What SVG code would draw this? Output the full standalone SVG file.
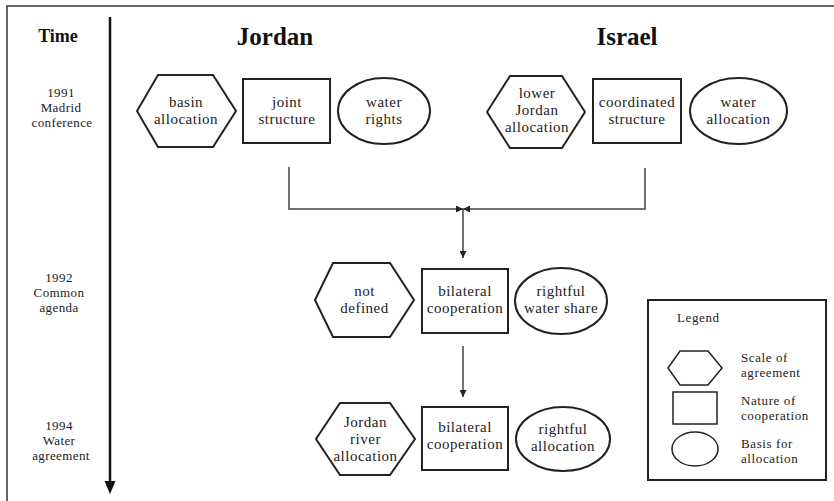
<svg xmlns="http://www.w3.org/2000/svg" width="834" height="501" viewBox="0 0 834 501">
<defs>
<style>
.frame{fill:none;stroke:#333;stroke-width:1.5}
.axis{fill:none;stroke:#111;stroke-width:2.5}
.shape{fill:#fff;stroke:#222;stroke-width:2}
.conn{fill:none;stroke:#444;stroke-width:1.5}
.t{font-family:"Liberation Serif","Times New Roman",serif;font-size:15px;letter-spacing:0.5px;fill:#222;text-anchor:middle}
.tl{font-family:"Liberation Serif","Times New Roman",serif;font-size:13px;letter-spacing:0.4px;fill:#222;text-anchor:middle}
.h{font-family:"Liberation Serif","Times New Roman",serif;font-weight:bold;fill:#111;text-anchor:middle}
.lg{font-family:"Liberation Serif","Times New Roman",serif;font-size:13px;letter-spacing:0.6px;fill:#222}
</style>
<marker id="ah" viewBox="0 0 10 10" refX="10" refY="5" markerWidth="7" markerHeight="7" markerUnits="userSpaceOnUse" orient="auto">
<path d="M0,0 L10,5 L0,10 Z" fill="#222"/>
</marker>
</defs>
<rect width="834" height="501" fill="#fff"/>
<path class="frame" d="M7,501 V6 H834"/>

<g id="time-axis">
<line class="axis" x1="110" y1="17" x2="110" y2="483"/>
<path d="M104.5,481 L115.5,481 L110,494 Z" fill="#111"/>
<text class="h" x="58" y="42" font-size="18">Time</text>
<text class="tl"><tspan x="61" y="97">1991</tspan><tspan x="61" y="112">Madrid</tspan><tspan x="62" y="127">conference</tspan></text>
<text class="tl"><tspan x="59" y="282">1992</tspan><tspan x="59" y="297">Common</tspan><tspan x="59" y="312">agenda</tspan></text>
<text class="tl"><tspan x="59" y="430">1994</tspan><tspan x="59" y="445">Water</tspan><tspan x="61" y="460">agreement</tspan></text>
</g>

<text class="h" x="275" y="45" font-size="25">Jordan</text>
<text class="h" x="627" y="45" font-size="25">Israel</text>

<g id="connectors">
<polyline class="conn" points="289,167 289,209 463,209" marker-end="url(#ah)"/>
<polyline class="conn" points="645,168 645,209 463,209" marker-end="url(#ah)"/>
<line class="conn" x1="463" y1="209" x2="463" y2="258" marker-end="url(#ah)"/>
<line class="conn" x1="463" y1="346" x2="463" y2="397" marker-end="url(#ah)"/>
</g>

<g id="jordan-scale">
<polygon class="shape" points="137,111 158,75 213,75 236,111 213,147 158,147"/>
<text class="t"><tspan x="186" y="107">basin</tspan><tspan x="186" y="124">allocation</tspan></text>
</g>
<g id="jordan-nature">
<rect class="shape" x="243" y="79" width="87" height="64"/>
<text class="t"><tspan x="287" y="107">joint</tspan><tspan x="287" y="124">structure</tspan></text>
</g>
<g id="jordan-basis">
<ellipse class="shape" cx="384" cy="111" rx="46" ry="33"/>
<text class="t"><tspan x="384" y="107">water</tspan><tspan x="384" y="124">rights</tspan></text>
</g>

<g id="israel-scale">
<polygon class="shape" points="487,112 510,76 562,76 585,112 562,148 510,148"/>
<text class="t"><tspan x="537" y="98">lower</tspan><tspan x="537" y="115">Jordan</tspan><tspan x="537" y="132">allocation</tspan></text>
</g>
<g id="israel-nature">
<rect class="shape" x="593" y="79" width="88" height="64"/>
<text class="t"><tspan x="637" y="107">coordinated</tspan><tspan x="637" y="124">structure</tspan></text>
</g>
<g id="israel-basis">
<ellipse class="shape" cx="738.5" cy="111" rx="48.5" ry="33"/>
<text class="t"><tspan x="738.5" y="107">water</tspan><tspan x="738.5" y="124">allocation</tspan></text>
</g>

<g id="agenda-scale">
<polygon class="shape" points="315,300 333,263 390,263 414,300 390,337 333,337"/>
<text class="t"><tspan x="364.5" y="296">not</tspan><tspan x="364.5" y="313">defined</tspan></text>
</g>
<g id="agenda-nature">
<rect class="shape" x="422" y="269" width="86" height="64"/>
<text class="t"><tspan x="465" y="296">bilateral</tspan><tspan x="465" y="313">cooperation</tspan></text>
</g>
<g id="agenda-basis">
<ellipse class="shape" cx="561" cy="301" rx="46" ry="33"/>
<text class="t"><tspan x="561" y="296">rightful</tspan><tspan x="561" y="313">water share</tspan></text>
</g>

<g id="agreement-scale">
<polygon class="shape" points="316,439 340,403 390,403 415,439 390,475 340,475"/>
<text class="t"><tspan x="365.5" y="427">Jordan</tspan><tspan x="365.5" y="444">river</tspan><tspan x="365.5" y="461">allocation</tspan></text>
</g>
<g id="agreement-nature">
<rect class="shape" x="422" y="407" width="86" height="63"/>
<text class="t"><tspan x="465" y="432">bilateral</tspan><tspan x="465" y="449">cooperation</tspan></text>
</g>
<g id="agreement-basis">
<ellipse class="shape" cx="563" cy="439" rx="47" ry="32"/>
<text class="t"><tspan x="563" y="434">rightful</tspan><tspan x="563" y="451">allocation</tspan></text>
</g>

<g id="legend">
<rect class="shape" x="648" y="300" width="178" height="180"/>
<text class="lg" x="677" y="322">Legend</text>
<polygon class="shape" style="stroke-width:1.5" points="668,368 680,351 708,351 722,368 708,385 680,385"/>
<rect class="shape" style="stroke-width:1.5" x="673" y="392" width="44" height="32"/>
<ellipse class="shape" style="stroke-width:1.5" cx="695" cy="449" rx="23" ry="17"/>
<text class="lg"><tspan x="741" y="362">Scale of</tspan><tspan x="741" y="376.5">agreement</tspan></text>
<text class="lg"><tspan x="741" y="405">Nature of</tspan><tspan x="741" y="419.5">cooperation</tspan></text>
<text class="lg"><tspan x="741" y="448">Basis for</tspan><tspan x="741" y="462.5">allocation</tspan></text>
</g>
</svg>
